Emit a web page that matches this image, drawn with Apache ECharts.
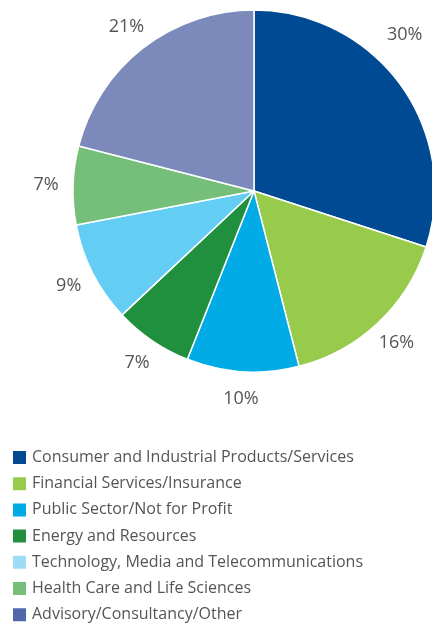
<!DOCTYPE html>
<html>
<head>
<meta charset="utf-8">
<script src="https://cdn.jsdelivr.net/npm/echarts@6/dist/echarts.min.js"></script>
<style>
  html, body { margin: 0; padding: 0; background: #fff; }
  #chart { width: 432px; height: 626px; }
</style>
</head>
<body>
<div id="chart"></div>
<script>
// Client base by industry sector (share of total, %)
const sectors = [
  'Consumer and Industrial Products/Services',
  'Financial Services/Insurance',
  'Public Sector/Not for Profit',
  'Energy and Resources',
  'Technology, Media and Telecommunications',
  'Health Care and Life Sciences',
  'Advisory/Consultancy/Other'
];
const shares = [30, 16, 10, 7, 9, 7, 21];

// Slice colours and the (slightly different) legend swatch colours
const sliceColors = ['#004a93', '#98ca4b', '#00abe6', '#20903e', '#63cdf3', '#75bf7a', '#7b8abb'];
const swatchColors = ['#004a93', '#98ca4b', '#00abe6', '#20903e', '#9cdcf5', '#75bf7a', '#5068aa'];

const CX = 254, CY = 191, R = 181;
const LABEL_R = 208;

// mid-angle (radians, clockwise from 12 o'clock) of each slice
const total = shares.reduce((a, b) => a + b, 0);
const midAngles = [];
let acc = 0;
shares.forEach(v => {
  midAngles.push((acc + v / 2) / total * Math.PI * 2);
  acc += v;
});
// the first label is pulled back toward the top so it stays inside the frame
const labelAngle = i => (i === 0 ? midAngles[i] - 10 * Math.PI / 180 : midAngles[i]);
const labelRadius = i => (i === 0 ? 217 : LABEL_R);

const chart = echarts.init(document.getElementById('chart'), null, { renderer: 'canvas' });

chart.setOption({
  animation: false,
  backgroundColor: '#ffffff',
  legend: {
    orient: 'vertical',
    left: 11,
    top: 449,
    height: 240,
    padding: 0,
    icon: 'rect',
    itemWidth: 15,
    itemHeight: 15,
    itemGap: 9.2,
    selectedMode: false,
    textStyle: {
      fontFamily: '"Open Sans", sans-serif',
      fontSize: 16,
      color: '#555555',
      lineHeight: 16
    },
    data: sectors.map((name, i) => ({ name, itemStyle: { color: swatchColors[i] } }))
  },
  series: [{
    type: 'pie',
    center: [CX, CY],
    radius: [0, R],
    startAngle: 90,
    clockwise: true,
    avoidLabelOverlap: false,
    itemStyle: { borderColor: '#ffffff', borderWidth: 1.5 },
    emphasis: { disabled: true },
    label: {
      show: true,
      position: 'inside',
      formatter: '{c}%',
      fontFamily: '"Open Sans", sans-serif',
      fontSize: 18,
      color: '#555555'
    },
    labelLine: { show: false },
    labelLayout: params => {
      const i = params.dataIndex;
      const a = labelAngle(i), r = labelRadius(i);
      return {
        x: CX + r * Math.sin(a),
        y: CY - r * Math.cos(a),
        align: 'center',
        verticalAlign: 'middle'
      };
    },
    data: sectors.map((name, i) => ({
      name,
      value: shares[i],
      itemStyle: { color: sliceColors[i] }
    }))
  }]
});
</script>
</body>
</html>
